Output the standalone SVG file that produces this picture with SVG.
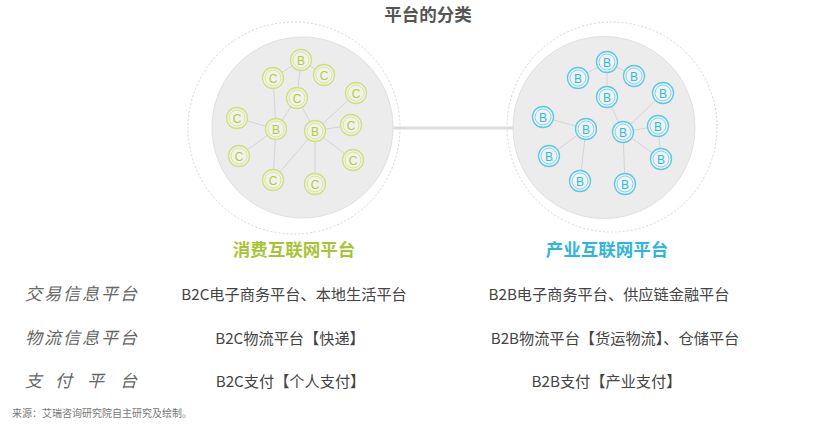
<svg xmlns="http://www.w3.org/2000/svg" width="820" height="426" viewBox="0 0 820 426">
<style>
.halo{fill:none;stroke:#d6d6d6;stroke-width:1;stroke-dasharray:2 2}
.disc{fill:#ececec;stroke:#e0e0e0;stroke-width:1}
.edge{stroke:#d4d4d4;stroke-width:1}
.gn text{fill:#b4cc3a}
.bn text{fill:#37b8de}
.nt{font-family:"Liberation Sans",Arial,sans-serif;font-size:12px;text-anchor:middle}
.cat{font-family:"Noto Sans CJK SC","Noto Sans",sans-serif;font-size:17px;font-style:italic;fill:#666;letter-spacing:2px}
.desc{font-family:"Noto Sans CJK SC","Noto Sans",sans-serif;font-size:15.2px;fill:#444;text-anchor:middle}
.head{font-family:"Noto Sans CJK SC","Noto Sans",sans-serif;font-size:17.5px;font-weight:bold;text-anchor:middle}
</style>
<defs>
<g id="cg"><circle r="10.5" fill="#f1f2ec" stroke="#cfe07e" stroke-width="1.3"/><circle r="8" fill="none" stroke="#d8e696" stroke-width="1"/></g>
<g id="cb"><circle r="10.5" fill="#eef3f5" stroke="#5cc9e4" stroke-width="1.3"/><circle r="8" fill="none" stroke="#86d6eb" stroke-width="1"/></g>
</defs>
<rect width="820" height="426" fill="#ffffff"/>
<text x="428" y="21" class="head" fill="#555">平台的分类</text>

<circle class="halo" cx="294" cy="128" r="106"/>
<circle class="halo" cx="612" cy="127" r="105"/>
<g id="connectors">
<line x1="392" y1="128" x2="514" y2="128" stroke="#dcdcdc" stroke-width="3"/>
</g>
<circle class="disc" cx="302.5" cy="127.5" r="90.5"/>
<circle class="disc" cx="604" cy="127.5" r="91"/>

<g id="left-edges">
<line class="edge" x1="301" y1="60" x2="273" y2="78"/>
<line class="edge" x1="301" y1="60" x2="297" y2="98"/>
<line class="edge" x1="301" y1="60" x2="324" y2="75"/>
<line class="edge" x1="273" y1="78" x2="276" y2="129"/>
<line class="edge" x1="297" y1="98" x2="276" y2="129"/>
<line class="edge" x1="297" y1="98" x2="315" y2="131"/>
<line class="edge" x1="356" y1="93" x2="315" y2="131"/>
<line class="edge" x1="351" y1="125" x2="315" y2="131"/>
<line class="edge" x1="353" y1="160" x2="315" y2="131"/>
<line class="edge" x1="315" y1="184" x2="315" y2="131"/>
<line class="edge" x1="273" y1="180" x2="315" y2="131"/>
<line class="edge" x1="273" y1="180" x2="276" y2="129"/>
<line class="edge" x1="237" y1="118" x2="276" y2="129"/>
<line class="edge" x1="239" y1="156" x2="276" y2="129"/>
</g>
<g id="right-edges">
<line class="edge" x1="607" y1="62" x2="578" y2="78"/>
<line class="edge" x1="607" y1="62" x2="607" y2="97"/>
<line class="edge" x1="607" y1="62" x2="634" y2="76"/>
<line class="edge" x1="607" y1="97" x2="623" y2="132"/>
<line class="edge" x1="663" y1="93" x2="623" y2="132"/>
<line class="edge" x1="658" y1="126" x2="623" y2="132"/>
<line class="edge" x1="658" y1="126" x2="661" y2="159"/>
<line class="edge" x1="661" y1="159" x2="623" y2="132"/>
<line class="edge" x1="625" y1="184" x2="623" y2="132"/>
<line class="edge" x1="543" y1="117" x2="586" y2="129"/>
<line class="edge" x1="549" y1="156" x2="586" y2="129"/>
<line class="edge" x1="580" y1="181" x2="586" y2="129"/>
</g>

<g class="gn">
<g id="l-b1" transform="translate(301,60)"><use href="#cg"/><text class="nt" y="4.5">B</text></g>
<g id="l-c1" transform="translate(273,78)"><use href="#cg"/><text class="nt" y="4.5">C</text></g>
<g id="l-c2" transform="translate(324,75)"><use href="#cg"/><text class="nt" y="4.5">C</text></g>
<g id="l-c3" transform="translate(297,98)"><use href="#cg"/><text class="nt" y="4.5">C</text></g>
<g id="l-c4" transform="translate(356,93)"><use href="#cg"/><text class="nt" y="4.5">C</text></g>
<g id="l-c5" transform="translate(237,118)"><use href="#cg"/><text class="nt" y="4.5">C</text></g>
<g id="l-b2" transform="translate(276,129)"><use href="#cg"/><text class="nt" y="4.5">B</text></g>
<g id="l-b3" transform="translate(315,131)"><use href="#cg"/><text class="nt" y="4.5">B</text></g>
<g id="l-c6" transform="translate(351,125)"><use href="#cg"/><text class="nt" y="4.5">C</text></g>
<g id="l-c7" transform="translate(239,156)"><use href="#cg"/><text class="nt" y="4.5">C</text></g>
<g id="l-c8" transform="translate(353,160)"><use href="#cg"/><text class="nt" y="4.5">C</text></g>
<g id="l-c9" transform="translate(273,180)"><use href="#cg"/><text class="nt" y="4.5">C</text></g>
<g id="l-c10" transform="translate(315,184)"><use href="#cg"/><text class="nt" y="4.5">C</text></g>
</g>

<g class="bn">
<g id="r-b1" transform="translate(607,62)"><use href="#cb"/><text class="nt" y="4.5">B</text></g>
<g id="r-b2" transform="translate(578,78)"><use href="#cb"/><text class="nt" y="4.5">B</text></g>
<g id="r-b3" transform="translate(634,76)"><use href="#cb"/><text class="nt" y="4.5">B</text></g>
<g id="r-b4" transform="translate(607,97)"><use href="#cb"/><text class="nt" y="4.5">B</text></g>
<g id="r-b5" transform="translate(663,93)"><use href="#cb"/><text class="nt" y="4.5">B</text></g>
<g id="r-b6" transform="translate(543,117)"><use href="#cb"/><text class="nt" y="4.5">B</text></g>
<g id="r-b7" transform="translate(586,129)"><use href="#cb"/><text class="nt" y="4.5">B</text></g>
<g id="r-b8" transform="translate(623,132)"><use href="#cb"/><text class="nt" y="4.5">B</text></g>
<g id="r-b9" transform="translate(658,126)"><use href="#cb"/><text class="nt" y="4.5">B</text></g>
<g id="r-b10" transform="translate(549,156)"><use href="#cb"/><text class="nt" y="4.5">B</text></g>
<g id="r-b11" transform="translate(661,159)"><use href="#cb"/><text class="nt" y="4.5">B</text></g>
<g id="r-b12" transform="translate(580,181)"><use href="#cb"/><text class="nt" y="4.5">B</text></g>
<g id="r-b13" transform="translate(625,184)"><use href="#cb"/><text class="nt" y="4.5">B</text></g>
</g>

<text x="294" y="256" class="head" fill="#a6c536">消费互联网平台</text>
<text x="607" y="256" class="head" fill="#2fb6e0">产业互联网平台</text>

<text x="25" y="300" class="cat">交易信息平台</text>
<text x="25" y="344" class="cat">物流信息平台</text>
<text x="25 42 55 72 87 104 120" y="387" class="cat" style="letter-spacing:0">支 付 平 台</text>

<text x="294" y="300" class="desc">B2C电子商务平台、本地生活平台</text>
<text x="290" y="344" class="desc">B2C物流平台【快递】</text>
<text x="290.5" y="387" class="desc">B2C支付【个人支付】</text>

<text x="609" y="300" class="desc">B2B电子商务平台、供应链金融平台</text>
<text x="615" y="344" class="desc">B2B物流平台【货运物流】、仓储平台</text>
<text x="606.5" y="387" class="desc">B2B支付【产业支付】</text>

<text x="12" y="417" font-family="&quot;Noto Sans CJK SC&quot;,&quot;Noto Sans&quot;,sans-serif" font-size="10" fill="#777">来源：艾瑞咨询研究院自主研究及绘制。</text>
</svg>
